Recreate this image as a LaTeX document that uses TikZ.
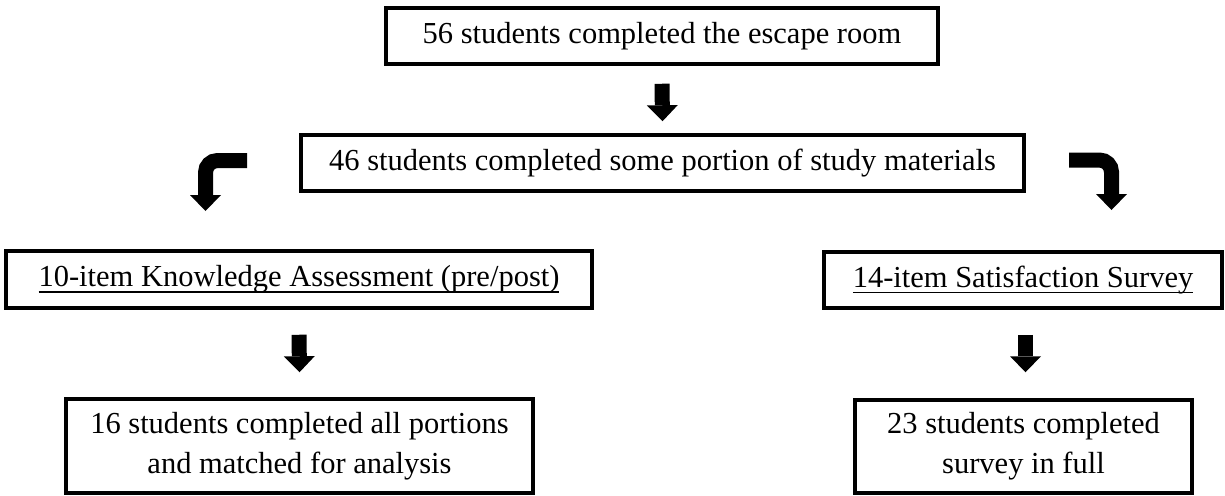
\documentclass[tikz,border=0pt]{standalone}
\usepackage{fontspec}
\setmainfont{Liberation Serif}
\usetikzlibrary{arrows.meta}

\newcommand{\ulword}[1]{\setbox0\hbox{#1}\rlap{\rule[-6pt]{\wd0}{1.4pt}}\box0}

\tikzset{
  stagebox/.style={draw, line width=3.5pt, inner sep=0pt, align=center,
    font=\fontsize{30.5pt}{40pt}\selectfont},
  blockarrow/.style={line width=15pt,
    -{Triangle[width=31pt,length=16pt,line width=0pt]}},
}

\begin{document}
\begin{tikzpicture}[x=1pt, y=-1pt]
    \useasboundingbox (0,0) rectangle (1225,495);

    \node[stagebox, minimum width=552pt, minimum height=56pt] (room) at (662,36) {56 students completed the escape room};
    \node[stagebox, minimum width=723pt, minimum height=56pt] (study) at (662.5,163) {46 students completed some portion of study materials};
    \node[stagebox, minimum width=586pt, minimum height=57pt] (know) at (299,279.5) {\ulword{10-item Knowledge Assessment (pre/post)}};
    \node[stagebox, minimum width=398pt, minimum height=56pt] (sat) at (1023,280) {\ulword{14-item Satisfaction Survey}};
    \node[stagebox, minimum width=467pt, minimum height=94pt] (match) at (299.5,446) {16 students completed all portions\\and matched for analysis};
    \node[stagebox, minimum width=337pt, minimum height=93pt] (full) at (1023.5,446.5) {23 students completed\\survey in full};

    \coordinate (lstart) at (247,160.5);
    \coordinate (lend) at (205.5,211);
    \coordinate (rstart) at (1069,160);
    \coordinate (rend) at (1111.5,210);

    \draw[blockarrow] ([yshift=-18pt]room.south) -- ([yshift=12pt]study.north);
    \draw[blockarrow, rounded corners=12pt] (lstart) -| (lend);
    \draw[blockarrow, rounded corners=12pt] (rstart) -| (rend);
    \draw[blockarrow] ([yshift=-25pt]know.south) -- ([yshift=25pt]match.north);
    \draw[blockarrow] ([xshift=2.5pt,yshift=-25pt]sat.south) -- ([xshift=2pt,yshift=26pt]full.north);
\end{tikzpicture}
\end{document}
